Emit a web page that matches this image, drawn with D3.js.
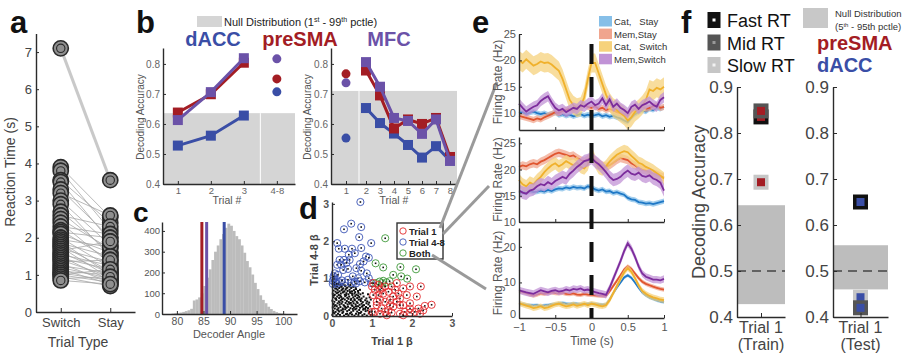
<!DOCTYPE html>
<html>
<head>
<meta charset="utf-8">
<script src="https://cdn.jsdelivr.net/npm/d3@7"></script>
<style>
  body { margin: 0; background: #fff; }
  svg { font-family: "Liberation Sans", Arial, sans-serif; }
</style>
</head>
<body>
<svg id="fig" width="915" height="356"></svg>
<script>
// ---------- panel a: reaction times (switch vs stay)
const rtSwitch = [7.1,3.9,3.8,3.55,3.5,3.3,3.2,3.0,2.9,2.7,2.6,2.5,2.4,2.3,2.2,2.15,2.1,2.0,1.95,1.9,1.85,1.8,1.75,1.7,1.65,1.6,1.55,1.5,1.45,1.4,1.35,1.3,1.25,1.2,1.15,1.1,1.05,1.0,1.0,0.95,0.9,0.85];
const rtStay   = [3.55,2.55,2.2,2.4,1.9,2.0,2.6,1.8,1.5,1.6,2.3,1.7,1.3,2.1,1.4,2.0,1.6,1.2,1.75,1.0,1.5,1.1,0.9,1.35,1.9,1.05,1.25,0.85,1.15,0.95,1.4,0.8,1.05,0.9,0.75,1.0,0.85,0.8,1.15,0.7,0.95,0.75];
const rtTicks = [0,1,2,3,4,5,6,7];

// ---------- panel b: decoding accuracy by trial
const bTrialsL = [1,2,3];
const bDaccL   = [0.528,0.561,0.628];
const bPresmaL = [0.638,0.699,0.804];
const bMfcL    = [0.613,0.706,0.819];
const bLaterL  = {mfc: 0.817, presma: 0.75, dacc: 0.707};   // plotted at "4-8"
const bNullL   = 0.636;
const bTicksL  = ['1','2','3','4-8'];

const bTrialsR = [2,3,4,5,6,7,8];
const bDaccR   = [0.653,0.603,0.568,0.53,0.488,0.526,0.478];
const bPresmaR = [0.778,0.695,0.585,0.615,0.6,0.62,0.49];
const bMfcR    = [0.806,0.724,0.62,0.61,0.567,0.615,0.477];
const bFirstR  = {presma: 0.767, mfc: 0.737, dacc: 0.553};   // plotted at trial 1
const bNullR   = 0.71;
const bTicksR  = [1,2,3,4,5,6,7,8];
const accTicks = [0.4,0.5,0.6,0.7,0.8];

// ---------- panel c: decoder angle histogram (bin width 0.5 deg)
const angleBins = [79,79.5,80,80.5,81,81.5,82,82.5,83,83.5,84,84.5,85,85.5,86,86.5,87,87.5,88,88.5,89,89.5,90,90.5,91,91.5,92,92.5,93,93.5,94,94.5,95,95.5,96,96.5,97,97.5,98,98.5,99,99.5,100];
const angleCounts = [2,4,5,7,10,14,18,25,65,70,80,100,135,175,215,260,300,330,360,385,415,435,425,400,375,360,330,295,255,225,190,150,120,90,68,52,35,24,15,9,5,3,1];
const angleMarks = [{name:'preSMA', v:84.7}, {name:'MFC', v:85.6}, {name:'dACC', v:88.9}];
const angleTicksX = [80,85,90,95,100];
const angleTicksY = [0,100,200,300,400];

// ---------- panel d: beta weights (trial 1 vs trial 4-8)
const betaNone = [[0.01,0.03],[0.06,0.07],[0.11,0.02],[0.15,0.06],[0.2,0.03],[0.26,0.08],[0.3,0.01],[0.35,0.05],[0.41,0.02],[0.45,0.07],[0.5,0.04],[0.56,0.01],[0.6,0.06],[0.66,0.03],[0.71,0.08],[0.76,0.02],[0.81,0.05],[0.87,0.01],[0.92,0.07],[0.97,0.03],
[0.03,0.14],[0.09,0.11],[0.13,0.17],[0.18,0.12],[0.23,0.15],[0.28,0.11],[0.33,0.18],[0.38,0.13],[0.43,0.16],[0.48,0.1],[0.53,0.14],[0.58,0.18],[0.63,0.12],[0.68,0.16],[0.73,0.11],[0.78,0.17],[0.84,0.13],[0.89,0.15],[0.94,0.11],
[0.02,0.23],[0.07,0.2],[0.12,0.26],[0.16,0.21],[0.21,0.24],[0.27,0.2],[0.31,0.27],[0.36,0.22],[0.4,0.25],[0.46,0.21],[0.51,0.27],[0.55,0.23],[0.61,0.2],[0.65,0.26],[0.7,0.22],[0.75,0.25],[0.79,0.2],[0.85,0.24],[0.9,0.21],[0.95,0.26],
[0.04,0.32],[0.09,0.29],[0.14,0.34],[0.19,0.3],[0.24,0.33],[0.29,0.29],[0.34,0.35],[0.39,0.31],[0.44,0.33],[0.49,0.29],[0.54,0.34],[0.59,0.31],[0.64,0.35],[0.69,0.3],[0.74,0.33],[0.8,0.29],[0.86,0.34],[0.91,0.31],
[0.01,0.41],[0.06,0.38],[0.11,0.43],[0.17,0.39],[0.22,0.42],[0.26,0.38],[0.32,0.44],[0.37,0.4],[0.42,0.37],[0.47,0.43],[0.52,0.39],[0.57,0.42],[0.62,0.38],[0.67,0.44],[0.72,0.4],[0.77,0.37],[0.83,0.42],[0.88,0.39],
[0.03,0.5],[0.08,0.47],[0.13,0.52],[0.18,0.48],[0.23,0.51],[0.28,0.47],[0.33,0.53],[0.38,0.49],[0.43,0.52],[0.48,0.46],[0.53,0.5],[0.58,0.53],[0.63,0.48],[0.68,0.51],[0.74,0.47],[0.79,0.52],
[0.02,0.6],[0.07,0.57],[0.12,0.61],[0.17,0.56],[0.22,0.6],[0.27,0.63],[0.32,0.57],[0.36,0.61],[0.41,0.58],[0.46,0.62],[0.51,0.56],[0.56,0.6],[0.61,0.57],[0.66,0.62],[0.71,0.58],[0.77,0.61],
[0.04,0.68],[0.09,0.65],[0.14,0.7],[0.19,0.66],[0.24,0.69],[0.29,0.65],[0.34,0.71],[0.39,0.67],[0.44,0.7],[0.5,0.66],[0.55,0.69],[0.6,0.72],[0.65,0.67],[0.7,0.7],
[0.02,0.77],[0.08,0.74],[0.13,0.79],[0.18,0.75],[0.23,0.78],[0.28,0.74],[0.33,0.8],[0.38,0.76],[0.43,0.79],[0.48,0.75],[0.53,0.78],[0.59,0.76],
[0.05,0.85],[0.1,0.82],[0.16,0.86],[0.21,0.83],[0.27,0.86],[0.32,0.82],[0.4,0.85],[0.46,0.83],
[0.04,0.09],[0.16,0.15],[0.27,0.17],[0.38,0.06],[0.52,0.19],[0.67,0.08],[0.83,0.19],[0.99,0.15],[0.06,0.27],[0.19,0.36],[0.33,0.24],[0.47,0.35],[0.6,0.26],[0.77,0.28],[0.93,0.36],[0.1,0.46],[0.25,0.45],[0.41,0.46],[0.56,0.45],[0.71,0.44],[0.86,0.47],[0.05,0.55],[0.21,0.54],[0.35,0.56],[0.5,0.6],[0.65,0.55],[0.15,0.63],[0.31,0.66],[0.45,0.64],[0.58,0.64],[0.11,0.73],[0.26,0.72],[0.36,0.74],[0.07,0.81],[0.24,0.8],[0.97,0.44],[0.94,0.5],[0.9,0.58]];
const betaTrial1 = [[1.16,0.83],[1.24,0.74],[1.33,0.79],[1.49,0.79],[1.62,0.88],[1.78,0.74],[1.95,0.79],[2.22,0.79],[1.16,0.56],[1.28,0.6],[1.41,0.65],[1.53,0.52],[1.66,0.6],[1.7,0.47],[1.87,0.56],[2.12,0.52],[1.2,0.43],[1.33,0.38],[1.45,0.43],[1.62,0.38],[1.78,0.29],[1.95,0.34],[1.7,0.29],[2.16,0.2],[2.32,0.27],[2.49,0.3],[1.12,0.29],[1.24,0.2],[1.41,0.16],[1.53,0.25],[1.07,0.11],[1.2,0.06],[1.33,0.11],[1.37,0.02],[1.49,0.09],[1.7,0.06],[1.82,0.11],[1.95,0.09],[2.07,0.11],[2.2,0.06],[2.28,0.15],[1.03,0.56],[1.07,0.7],[1.12,0.38],[1.0,0.11],[1.58,0.7],[1.95,0.2],[1.78,0.02],[1.2,0.7],[1.45,0.29],[1.0,0.79],[1.03,0.88]];
const betaTrial48 = [[0.71,3.05],[0.48,2.47],[0.3,2.32],[0.73,2.38],[0.68,2.11],[0.98,1.95],[0.13,1.95],[0.17,1.8],[0.32,1.8],[0.5,1.8],[0.73,1.82],[0.42,1.64],[0.57,1.68],[0.85,1.59],[0.92,1.56],[0.19,1.5],[0.3,1.5],[0.44,1.5],[0.13,1.37],[0.23,1.37],[0.36,1.42],[0.7,1.39],[0.79,1.46],[0.28,1.23],[0.4,1.26],[0.61,1.28],[0.73,1.21],[0.07,1.14],[0.15,1.1],[0.05,1.01],[0.11,0.97],[0.02,0.94],[0.07,0.9],[0.19,0.9],[0.32,0.9],[0.4,0.97],[0.48,0.88],[0.57,0.92],[0.82,0.9],[0.92,1.01],[0.98,0.88],[0.52,1.06],[0.65,1.01],[0.87,1.14],[0.04,1.06],[0.02,0.86],[0.12,0.86],[0.25,0.95],[0.6,0.87],[0.7,0.93]];
const betaBoth = [[1.33,2.08],[1.09,1.41],[1.28,1.3],[1.71,1.31],[2.1,1.25],[1.53,1.1],[1.73,1.06],[1.88,1.0],[1.19,0.92],[1.28,0.94],[1.36,0.9],[1.44,0.93],[1.1,0.88],[1.25,0.88]];
const betaTicks = [0,1,2,3];

// ---------- panel e: firing rates, 41 samples from -1 s to 1 s
const eTime = d3.range(41).map(i => -1 + i * 0.05);
const eNames = ['Cat,   Stay', 'Mem,Stay', 'Cat,   Switch', 'Mem,Switch'];
const e1CatStay  = [10,10.2,9.8,10.1,10.3,10,9.8,10,9.7,9.9,10.1,9.6,9.8,9.5,9.7,9.4,9.6,9.8,9.5,9.7,9.5,9.6,9.8,9.4,9.6,9.3,9.5,9.2,9,8.6,8.3,9.2,9.8,10.2,10.5,10.3,10.8,10.6,11,10.8,11.2];
const e1MemStay  = [9.5,9.3,9.1,8.9,8.7,9,8.8,9.2,9.5,9.8,10.2,10,10.4,10.6,10.8,10.5,11,11.2,11.5,11.2,11,11.3,10.8,11,10.6,10.8,10.5,10.2,10,9.8,9.5,10.2,10.8,11,11.2,10.8,11,11.3,11.5,11,11.2];
const e1CatSw    = [20,19.5,20.2,19.6,19,19.3,19.8,19.5,19.6,19.2,18.6,18,16.5,14.5,12.5,11.5,11,11.2,13,16.5,19.5,19.5,17.5,15.5,13.5,12,11,10.6,10,9.5,8.6,9.2,10.2,10.8,11.5,12.5,14.5,14.2,14.8,14.5,15];
const e1MemSw    = [11.8,11,10.3,10.8,11.2,11.5,12.3,12.8,13.2,12,11,10.5,10.8,10.2,10.6,11,10.8,11.5,11.2,11.8,12.2,11.5,11.8,12.8,11.5,12.6,11.2,11.8,11,10.6,10,11.2,11.6,10.8,11.5,11.8,12.2,11.6,11.2,12.5,13];
const e2CatStay  = [15.5,15.7,15.6,15.9,15.7,15.8,16,15.8,16.1,15.9,16.2,16.4,16.3,16.6,16.4,16.7,16.5,16.6,16.4,16.8,16.6,16.2,16,16.2,15.8,15.9,15.5,15.7,15.4,15.2,14.6,14.3,14.2,13.8,13.7,13.5,13.6,13.4,13.6,13.8,14];
const e2MemStay  = [20.5,20.8,20.6,21,21.2,21,21.5,21.8,22.2,22.6,23,23.2,23,22.8,22.5,22.7,22.2,21.8,21.5,22,22.3,21.8,21.2,20.8,20.5,20.8,21.3,21.8,22.2,22,21.8,21.2,20.8,20.3,20,19.8,19.5,19.2,19,18.7,18.5];
const e2CatSw    = [18,17.2,16.8,17.5,17.2,18,18.6,19.5,20.2,20.8,21.2,20.6,21,21.6,21.2,20.8,21.3,20.5,20.2,21,23.5,21.5,20.3,20,20.6,21.5,22.2,22.8,23.2,23.5,23.3,22.6,22,21.3,21,20.5,20.2,19.8,19.3,18.8,18.3];
const e2MemSw    = [16,15.6,15.4,16,16.2,16.8,17.2,17,17.6,17.2,17.8,18.2,18.6,18.3,19.2,19.8,20.5,21,21.6,21.8,22.2,21.5,21,20.3,19.5,18.6,18,18.2,18.6,19.3,19.8,19.2,19,19.4,18.8,18.6,18.9,18.3,18,17.5,16];
const e3CatStay  = [4,3.9,3.7,3.6,3.5,3.6,3.4,3.5,3.6,3.8,3.9,4.1,4.2,4,3.9,4.1,4,3.8,3.9,4,4.1,3.9,3.8,3.7,3.8,5.2,7,8.6,10,11.4,12,11.3,10,8.5,7.2,6.4,5.8,5.4,5,4.7,4.5];
const e3MemStay  = [7.5,7.3,7,6.6,6.3,6.6,7,6.8,7,7.2,7,6.9,7.1,6.8,6.7,6.9,6.6,6.5,6.8,6.6,6.5,6.4,6.3,6.2,6.2,7.5,9,10.5,12,13.6,14.5,13.8,12.5,11.2,10.2,9.6,9.2,8.8,8.5,8.2,8];
const e3CatSw    = [4.2,3.8,3.5,3.2,2.8,3,3.3,2.8,3,3.4,3.8,4,3.6,3.3,3.5,3.8,3.4,3.7,4,3.6,4,3.8,3.5,3.3,3.6,5,7,9,11,12.8,14,13,11.2,9.2,7.6,6.8,6.2,5.8,5.5,5.2,5];
const e3MemSw    = [7.8,7.5,7.2,7,6.8,7.3,7.8,7.5,7.2,7.6,7.8,7.4,7.6,8,7.7,8.2,8,8.3,7.8,8,7.6,7.3,7,6.8,6.5,8.5,11,13.5,16,18.8,21,19.5,17.2,14.5,12.5,11.6,11.2,10.8,10.8,10.6,11];
const e1Sem = [0.5,0.6,1.8,1.0];
const e2Sem = [0.5,0.8,1.2,1.2];
const e3Sem = [0.5,0.6,0.8,1.0];
const eTicksX = [-1,-0.5,0,0.5,1];

// ---------- panel f: decoding accuracy split by RT
const fGroups = ['Fast RT','Mid RT','Slow RT'];
const fTrain = [0.835,0.848,0.693];   // preSMA
const fTest  = [0.65,0.42,0.443];     // dACC
const fNullTrain = [0.428,0.643];
const fNullTest  = [0.46,0.556];
const fTicks = [0.4,0.5,0.6,0.7,0.8,0.9];

const BLUE = '#3a4ea6', RED = '#a31d24', PURPLE = '#6b52a8';
const eLine = ['#1f78c6','#e0552f','#f0b12c','#7c2c9c'];
const eBand = ['#86bfe8','#f0a58e','#f6d27c','#c193d6'];
const fEdge = ['#111','#555','#c6c6c6'];
const fDot  = ['#fff','#999','#f2f2f2'];

const svg = d3.select('#fig');

function ax(g, axis, fs, col) {
  g.call(axis);
  g.attr('font-family', null).attr('font-size', fs);
  g.select('.domain').attr('stroke', '#2b2b2b').attr('stroke-width', 1.4);
  g.selectAll('.tick line').attr('stroke', '#2b2b2b');
  g.selectAll('.tick text').attr('fill', col || '#555');
  return g;
}
function label(x, y, txt, opt) {
  opt = opt || {};
  const t = svg.append('text').attr('x', x).attr('y', y).text(txt)
    .attr('font-size', opt.size || 12).attr('fill', opt.fill || '#444')
    .attr('text-anchor', opt.anchor || 'middle');
  if (opt.bold) t.attr('font-weight', 'bold');
  if (opt.rotate) t.attr('transform', `rotate(-90,${x},${y})`);
  return t;
}
function letter(x, y, c, size) {
  label(x, y, c, {size: size || 31, bold: true, fill: '#111', anchor: 'start'});
}

// ================= panel a
{
  const x = d3.scaleLinear().domain([0.5, 2.5]).range([36, 135]);
  const y = d3.scaleLinear().domain([0, 7.5]).range([312, 33.5]);
  const g = svg.append('g');
  const pairs = rtSwitch.map((s, i) => ({s, t: rtStay[i]}));
  g.selectAll('line.pair').data(pairs.slice(1)).enter().append('line')
    .attr('x1', x(1)).attr('x2', x(2))
    .attr('y1', d => y(d.s)).attr('y2', d => y(d.t))
    .attr('stroke', '#a9a9a9').attr('stroke-width', 1).attr('opacity', 0.8);
  g.append('line').attr('x1', x(1)).attr('x2', x(2))
    .attr('y1', y(pairs[0].s)).attr('y2', y(pairs[0].t))
    .attr('stroke', '#c9c9c9').attr('stroke-width', 3);
  const pts = [];
  pairs.forEach(d => { pts.push([1, d.s]); pts.push([2, d.t]); });
  const c = g.selectAll('g.pt').data(pts).enter().append('g')
    .attr('transform', d => `translate(${x(d[0])},${y(d[1])})`);
  c.append('circle').attr('r', 7.6).attr('fill', '#8f8f8f').attr('stroke', '#2a2a2a').attr('stroke-width', 1.6);
  c.append('circle').attr('r', 4.2).attr('fill', 'none').attr('stroke', '#2a2a2a').attr('stroke-width', 1.1);
  ax(svg.append('g').attr('transform', 'translate(36,0)'),
    d3.axisLeft(y).tickValues(rtTicks).tickSize(-3).tickSizeOuter(0).tickPadding(4), 13, '#444');
  ax(svg.append('g').attr('transform', 'translate(0,312)'),
    d3.axisBottom(x).tickValues([1, 2]).tickFormat(d => d === 1 ? 'Switch' : 'Stay').tickSize(-4).tickSizeOuter(0).tickPadding(6), 13, '#444');
  label(15, 172, 'Reaction Time (s)', {size: 14, rotate: true});
  label(78, 347, 'Trial Type', {size: 14});
  letter(10, 33, 'a');
}

// ================= panel b
function square(g, xs, ys, col, sz) {
  g.selectAll(null).data(xs).enter().append('rect')
    .attr('x', (d, i) => xs[i] - sz / 2).attr('y', (d, i) => ys[i] - sz / 2)
    .attr('width', sz).attr('height', sz).attr('fill', col);
}
function bSeries(g, x, y, xs, ys, col) {
  g.append('path').datum(xs.map((d, i) => [d, ys[i]]))
    .attr('d', d3.line().x(d => x(d[0])).y(d => y(d[1])))
    .attr('fill', 'none').attr('stroke', col).attr('stroke-width', 3);
  square(g, xs.map(x), ys.map(y), col, 10);
}
{
  const y = d3.scaleLinear().domain([0.4, 0.853]).range([184, 48]);
  // left subplot
  const xL = d3.scaleLinear().domain([0.55, 4.55]).range([163, 295]);
  const gL = svg.append('g');
  gL.append('rect').attr('x', xL(0.55)).attr('width', xL(4.55) - xL(0.55))
    .attr('y', y(bNullL)).attr('height', y(0.4) - y(bNullL)).attr('fill', '#d5d5d5');
  gL.append('line').attr('x1', xL(3.5)).attr('x2', xL(3.5)).attr('y1', y(bNullL)).attr('y2', y(0.4))
    .attr('stroke', '#fff').attr('stroke-width', 1);
  bSeries(gL, xL, y, bTrialsL, bDaccL, BLUE);
  bSeries(gL, xL, y, bTrialsL, bPresmaL, RED);
  bSeries(gL, xL, y, bTrialsL, bMfcL, PURPLE);
  [[bLaterL.mfc, PURPLE], [bLaterL.presma, RED], [bLaterL.dacc, BLUE]].forEach(p =>
    gL.append('circle').attr('cx', xL(4)).attr('cy', y(p[0])).attr('r', 4.5).attr('fill', p[1]));
  ax(svg.append('g').attr('transform', `translate(${xL(0.55)},0)`),
    d3.axisLeft(y).tickValues(accTicks).tickFormat(d3.format('.1f')).tickSize(-3).tickSizeOuter(0).tickPadding(3), 10, '#666');
  ax(svg.append('g').attr('transform', `translate(0,${y(0.4)})`),
    d3.axisBottom(xL).tickValues([1, 2, 3, 4]).tickFormat((d, i) => bTicksL[i]).tickSize(-3).tickSizeOuter(0).tickPadding(3), 9.5, '#666');
  label(144, 117, 'Decoding Accuracy', {size: 10, rotate: true, fill: '#555'});
  label(227, 204, 'Trial #', {size: 10.5, fill: '#555'});

  // right subplot
  const xR = d3.scaleLinear().domain([0, 1, 1.5, 8.5]).range([331, 346, 359, 457]);
  const gR = svg.append('g');
  gR.append('rect').attr('x', xR(0)).attr('width', xR(8.5) - xR(0))
    .attr('y', y(bNullR)).attr('height', y(0.4) - y(bNullR)).attr('fill', '#d5d5d5');
  gR.append('line').attr('x1', xR(1.5)).attr('x2', xR(1.5)).attr('y1', y(bNullR)).attr('y2', y(0.4))
    .attr('stroke', '#fff').attr('stroke-width', 1);
  bSeries(gR, xR, y, bTrialsR, bDaccR, BLUE);
  bSeries(gR, xR, y, bTrialsR, bPresmaR, RED);
  bSeries(gR, xR, y, bTrialsR, bMfcR, PURPLE);
  [[bFirstR.presma, RED], [bFirstR.mfc, PURPLE], [bFirstR.dacc, BLUE]].forEach(p =>
    gR.append('circle').attr('cx', xR(1)).attr('cy', y(p[0])).attr('r', 4.5).attr('fill', p[1]));
  ax(svg.append('g').attr('transform', `translate(${xR(0)},0)`),
    d3.axisLeft(y).tickValues(accTicks).tickFormat(d3.format('.1f')).tickSize(-3).tickSizeOuter(0).tickPadding(3), 10, '#666');
  ax(svg.append('g').attr('transform', `translate(0,${y(0.4)})`),
    d3.axisBottom(xR).tickValues(bTicksR).tickSize(-3).tickSizeOuter(0).tickPadding(3), 9.5, '#666');
  label(311, 117, 'Decoding Accuracy', {size: 10, rotate: true, fill: '#555'});
  label(394, 204, 'Trial #', {size: 10.5, fill: '#555'});

  // titles + legend
  label(213, 46, 'dACC', {size: 20, bold: true, fill: BLUE});
  label(300, 46, 'preSMA', {size: 20, bold: true, fill: RED});
  label(389, 46, 'MFC', {size: 20, bold: true, fill: PURPLE});
  svg.append('rect').attr('x', 197).attr('y', 16).attr('width', 25).attr('height', 11).attr('fill', '#d5d5d5');
  const lt = svg.append('text').attr('x', 224).attr('y', 26).attr('font-size', 11).attr('fill', '#222');
  lt.append('tspan').text('Null Distribution (1');
  lt.append('tspan').text('st').attr('font-size', 7).attr('dy', -4);
  lt.append('tspan').text(' - 99').attr('dy', 4);
  lt.append('tspan').text('th').attr('font-size', 7).attr('dy', -4);
  lt.append('tspan').text(' pctle)').attr('dy', 4);
  letter(136, 33, 'b');
}

// ================= panel c
{
  const x = d3.scaleLinear().domain([77.2, 102.6]).range([162, 297]);
  const y = d3.scaleLinear().domain([0, 443]).range([314, 222]);
  const g = svg.append('g');
  g.selectAll('rect').data(angleBins).enter().append('rect')
    .attr('x', d => x(d)).attr('width', x(79.5) - x(79) + 0.2)
    .attr('y', (d, i) => y(angleCounts[i])).attr('height', (d, i) => y(0) - y(angleCounts[i]))
    .attr('fill', '#bcbcbc');
  const cols = [RED, PURPLE, BLUE];
  g.selectAll('line.m').data(angleMarks).enter().append('line')
    .attr('x1', d => x(d.v)).attr('x2', d => x(d.v)).attr('y1', y(0)).attr('y2', y(443))
    .attr('stroke', (d, i) => cols[i]).attr('stroke-width', 3);
  ax(svg.append('g').attr('transform', 'translate(162,0)'),
    d3.axisLeft(y).tickValues(angleTicksY).tickSize(-3).tickSizeOuter(0).tickPadding(2), 9.5, '#555');
  ax(svg.append('g').attr('transform', 'translate(0,314)'),
    d3.axisBottom(x).tickValues(angleTicksX).tickSize(-3).tickSizeOuter(0).tickPadding(4), 10.5, '#555');
  label(229, 338, 'Decoder Angle', {size: 11, fill: '#555'});
  letter(133, 222, 'c', 28);
}

// ================= panel d
{
  const x = d3.scaleLinear().domain([0, 3]).range([332, 452]);
  const y = d3.scaleLinear().domain([0, 3.05]).range([316, 202]);
  const g = svg.append('g');
  g.selectAll('rect.n').data(betaNone).enter().append('rect')
    .attr('x', d => x(d[0]) - 1).attr('y', d => y(d[1]) - 1).attr('width', 2).attr('height', 2).attr('fill', '#111');
  const groups = [[betaTrial48, '#3b55b5'], [betaBoth, '#3f9a3a'], [betaTrial1, '#e2282a']];
  groups.forEach(([pts, col]) => {
    const s = g.append('g').selectAll('g').data(pts).enter().append('g')
      .attr('transform', d => `translate(${x(d[0])},${y(d[1])})`);
    s.append('circle').attr('r', 3.6).attr('fill', 'none').attr('stroke', col).attr('stroke-width', 0.9);
    s.append('rect').attr('x', -0.8).attr('y', -0.8).attr('width', 1.6).attr('height', 1.6).attr('fill', '#111');
  });
  ax(svg.append('g').attr('transform', 'translate(332,0)'),
    d3.axisLeft(y).tickValues(betaTicks).tickFormat(d3.format('d')).tickSize(-3).tickSizeOuter(0).tickPadding(3), 10.5, '#555')
    .selectAll('.tick text').attr('font-weight', 'bold');
  ax(svg.append('g').attr('transform', 'translate(0,316)'),
    d3.axisBottom(x).tickValues(betaTicks).tickFormat(d3.format('d')).tickSize(-3).tickSizeOuter(0).tickPadding(4), 10.5, '#555')
    .selectAll('.tick text').attr('font-weight', 'bold');
  label(318, 260, 'Trial 4-8 β', {size: 11, bold: true, rotate: true, fill: '#444'});
  label(392, 345, 'Trial 1 β', {size: 11, bold: true, fill: '#444'});
  // legend
  svg.append('rect').attr('x', 397).attr('y', 223).attr('width', 46).attr('height', 36)
    .attr('fill', '#fff').attr('stroke', '#333').attr('stroke-width', 1.4);
  [['Trial 1', '#e2282a'], ['Trial 4-8', '#3b55b5'], ['Both', '#3f9a3a']].forEach((d, i) => {
    svg.append('circle').attr('cx', 403).attr('cy', 231 + i * 11).attr('r', 3.2)
      .attr('fill', 'none').attr('stroke', d[1]).attr('stroke-width', 0.9);
    label(409, 234.5 + i * 11, d[0], {size: 9.5, bold: true, anchor: 'start', fill: '#222'});
  });
  letter(299, 219, 'd');
}

// ================= connectors d -> e
{
  const links = [[440, 228, 497, 82], [443, 234, 489, 186], [432, 255, 486, 289]];
  svg.append('g').selectAll('line').data(links).enter().append('line')
    .attr('x1', d => d[0]).attr('y1', d => d[1]).attr('x2', d => d[2]).attr('y2', d => d[3])
    .attr('stroke', '#9a9a9a').attr('stroke-width', 3);
}

// ================= panel e
{
  const x = d3.scaleLinear().domain([-1, 1]).range([519, 664]);
  const subs = [
    {y: d3.scaleLinear().domain([6.8, 25]).range([130, 34]), ticks: [10,15,20,25], data: [e1CatStay, e1MemStay, e1CatSw, e1MemSw], sem: e1Sem},
    {y: d3.scaleLinear().domain([10, 26.2]).range([222, 137]), ticks: [10,15,20,25], data: [e2CatStay, e2MemStay, e2CatSw, e2MemSw], sem: e2Sem},
    {y: d3.scaleLinear().domain([0, 25.3]).range([318, 228]), ticks: [0,10,20], data: [e3CatStay, e3MemStay, e3CatSw, e3MemSw], sem: e3Sem}
  ];
  subs.forEach((s, k) => {
    const g = svg.append('g');
    s.data.forEach((vals, j) => {
      const area = d3.area().x((d, i) => x(eTime[i]))
        .y0(d => s.y(d - s.sem[j])).y1(d => s.y(d + s.sem[j]));
      g.append('path').datum(vals).attr('d', area).attr('fill', eBand[j]).attr('opacity', 0.75);
      g.append('path').datum(vals).attr('d', d3.line().x((d, i) => x(eTime[i])).y(d => s.y(d)))
        .attr('fill', 'none').attr('stroke', eLine[j]).attr('stroke-width', 1.8);
    });
    const y0 = s.y.range()[0];
    const ya = ax(svg.append('g').attr('transform', 'translate(519,0)'),
      d3.axisLeft(s.y).tickValues(s.ticks).tickSize(-3).tickSizeOuter(0).tickPadding(3), 11, '#555');
    if (k === 2) ya.selectAll('.tick text').filter(d => d === 0).attr('dy', '-0.05em');
    ax(svg.append('g').attr('transform', `translate(0,${y0})`),
      d3.axisBottom(x).tickValues(eTicksX).tickFormat(k === 2 ? d3.format('') : () => '')
        .tickSize(-3).tickSizeOuter(0).tickPadding(5), 11, '#555');
    const yr = s.y.range();
    label(502, (yr[0] + yr[1]) / 2, 'Firing Rate (Hz)', {size: 12, rotate: true, fill: '#555'});
  });
  svg.append('line').attr('x1', x(0)).attr('x2', x(0)).attr('y1', 44).attr('y2', 318)
    .attr('stroke', '#111').attr('stroke-width', 4).attr('stroke-dasharray', '20,13');
  label(592, 345, 'Time (s)', {size: 12, fill: '#555'});
  eNames.forEach((n, i) => {
    svg.append('rect').attr('x', 599).attr('y', 16 + i * 12.6).attr('width', 13).attr('height', 10.5).attr('fill', eBand[i]);
    label(614, 25 + i * 12.6, n, {size: 9.5, anchor: 'start', fill: '#333'}).style('white-space', 'pre');
  });
  letter(472, 33, 'e');
}

// ================= panel f
{
  const y = d3.scaleLinear().domain([0.4, 0.9]).range([317, 87]);
  const sub = [
    {x: d3.scaleLinear().domain([0, 1]).range([737, 785]), vals: fTrain, nul: fNullTrain, col: RED, name: '(Train)'},
    {x: d3.scaleLinear().domain([0, 1]).range([833, 888]), vals: fTest, nul: fNullTest, col: BLUE, name: '(Test)'}
  ];
  sub.forEach(s => {
    const g = svg.append('g');
    const [x0, x1] = s.x.range();
    g.append('rect').attr('x', x0).attr('width', x1 - x0)
      .attr('y', y(s.nul[1])).attr('height', y(s.nul[0]) - y(s.nul[1])).attr('fill', '#bdbdbd');
    g.append('line').attr('x1', x0).attr('x2', x1).attr('y1', y(0.5)).attr('y2', y(0.5))
      .attr('stroke', '#444').attr('stroke-width', 1.5).attr('stroke-dasharray', '9,6');
    [0, 2, 1].forEach(i => {
      const cx = s.x(0.5), cy = y(s.vals[i]);
      g.append('rect').attr('x', cx - 7.5).attr('y', cy - 7.5).attr('width', 15).attr('height', 15).attr('fill', fEdge[i]);
      g.append('rect').attr('x', cx - 4).attr('y', cy - 4).attr('width', 8).attr('height', 8).attr('fill', s.col);
    });
    ax(svg.append('g').attr('transform', `translate(${x0},0)`),
      d3.axisLeft(y).tickValues(fTicks).tickFormat(d3.format('.1f')).tickSize(-4).tickSizeOuter(0).tickPadding(4), 17, '#444');
    ax(svg.append('g').attr('transform', `translate(0,${y(0.4)})`),
      d3.axisBottom(s.x).tickValues([0.5]).tickFormat(() => '').tickSize(-4).tickSizeOuter(0), 17, '#444');
    label(s.x(0.5), 333, 'Trial 1', {size: 16});
    label(s.x(0.5), 350, s.name, {size: 16});
  });
  label(705, 202, 'Decoding Accuracy', {size: 18, rotate: true});
  fGroups.forEach((n, i) => {
    const cy = 20 + i * 22.5;
    svg.append('rect').attr('x', 707.5).attr('y', cy - 8).attr('width', 13).attr('height', 16).attr('fill', fEdge[i]);
    svg.append('rect').attr('x', 712.5).attr('y', cy - 1.5).attr('width', 3).attr('height', 3).attr('fill', fDot[i]);
    label(727, cy + 7, n, {size: 18, anchor: 'start', fill: '#111'});
  });
  svg.append('rect').attr('x', 803).attr('y', 8).attr('width', 25).attr('height', 20).attr('fill', '#c8c8c8');
  label(835, 17, 'Null Distribution', {size: 9.5, anchor: 'start', fill: '#333'});
  const nt = svg.append('text').attr('x', 835).attr('y', 30).attr('font-size', 9.5).attr('fill', '#333');
  nt.append('tspan').text('(5');
  nt.append('tspan').text('th').attr('font-size', 6).attr('dy', -3.5);
  nt.append('tspan').text(' - 95th pctle)').attr('dy', 3.5);
  label(817, 50, 'preSMA', {size: 20, bold: true, fill: RED, anchor: 'start'});
  label(817, 72, 'dACC', {size: 20, bold: true, fill: BLUE, anchor: 'start'});
  letter(681, 33, 'f');
}
</script>
</body>
</html>
